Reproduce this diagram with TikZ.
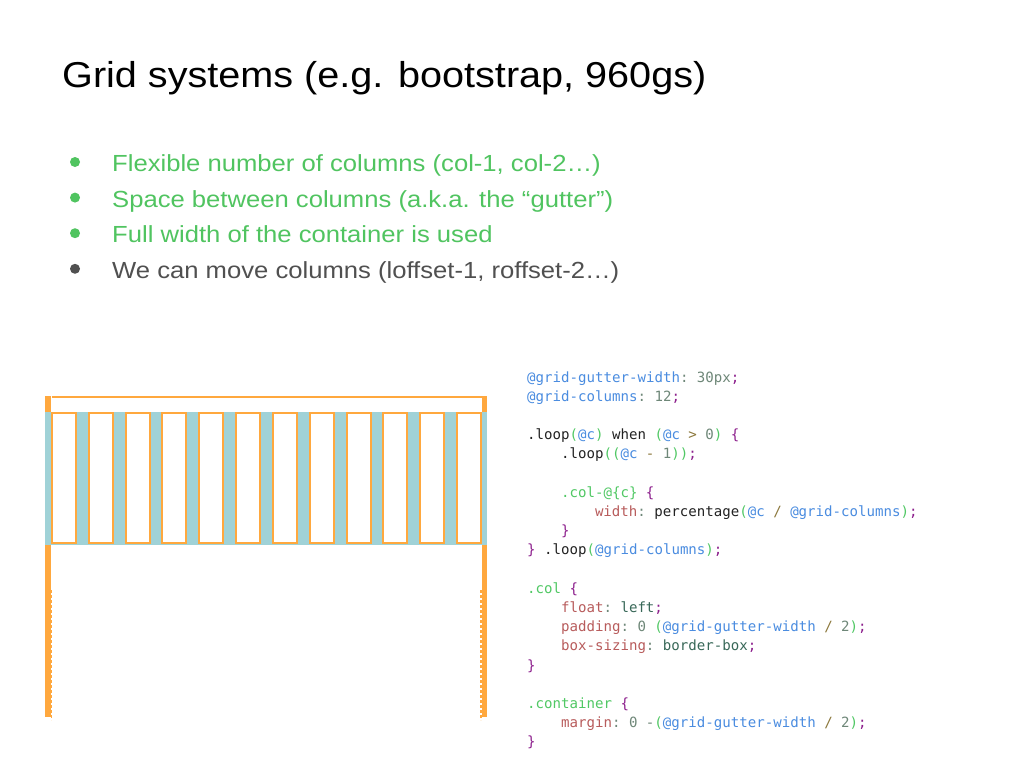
\documentclass[tikz,border=0pt]{standalone}
\usepackage{fontspec}
\setmainfont{Liberation Sans}[FakeStretch=1.1]
\setmonofont{DejaVu Sans Mono}
\usetikzlibrary{arrows.meta}

\definecolor{gridorange}{RGB}{255,168,62}
\definecolor{gutterblue}{RGB}{160,210,215}
\definecolor{bulgreen}{RGB}{80,196,96}
\definecolor{bulgray}{RGB}{80,80,80}
\definecolor{cvar}{RGB}{74,140,224}
\definecolor{cpar}{RGB}{80,200,100}
\definecolor{cbr}{RGB}{140,30,140}
\definecolor{cprop}{RGB}{184,92,92}
\definecolor{cval}{RGB}{56,104,88}
\definecolor{cnum}{RGB}{110,135,120}
\definecolor{cop}{RGB}{140,120,60}
\definecolor{cdark}{RGB}{34,34,34}

\newcommand\cVar[1]{\textcolor{cvar}{#1}}
\newcommand\cPar[1]{\textcolor{cpar}{#1}}
\newcommand\cBr[1]{\textcolor{cbr}{#1}}
\newcommand\cProp[1]{\textcolor{cprop}{#1}}
\newcommand\cVal[1]{\textcolor{cval}{#1}}
\newcommand\cNum[1]{\textcolor{cnum}{#1}}
\newcommand\cOp[1]{\textcolor{cop}{#1}}

\begin{document}
\begin{tikzpicture}[x=1pt,y=-1pt,
    every node/.style={inner sep=0pt},
    title/.style={anchor=base west,font=\fontsize{36}{40}\selectfont},
    bullet/.style={anchor=base west,font=\fontsize{23.3}{28}\selectfont},
    dot/.style={circle,minimum size=10pt},
    code/.style={anchor=base west,text=cdark,font=\ttfamily\fontsize{14.1}{17}\selectfont},
    colbox/.style={draw=gridorange,line width=2pt,fill=white,anchor=north west,
      minimum width=24pt,minimum height=129.5pt}]
  \useasboundingbox[fill=white] (0,0) rectangle (1024,768);

  \node[title] (title) at (62,87) {Grid systems (e.g. bootstrap, 960gs)};

  % bullets
  \node[dot,fill=bulgreen] (d1) at (75,162) {};
  \node[bullet,text=bulgreen] (b1) at (112,171.5) {Flexible number of columns (col-1, col-2…)};
  \node[dot,fill=bulgreen] (d2) at (75,197.6) {};
  \node[bullet,text=bulgreen] (b2) at (112,207.1) {Space between columns (a.k.a. the “gutter”)};
  \node[dot,fill=bulgreen] (d3) at (75,233.2) {};
  \node[bullet,text=bulgreen] (b3) at (112,242.7) {Full width of the container is used};
  \node[dot,fill=bulgray] (d4) at (75,268.8) {};
  \node[bullet,text=bulgray] (b4) at (112,278.3) {We can move columns (loffset-1, roffset-2…)};

  % grid
  \fill[gridorange] (45,396) rectangle (51,717);
  \fill[gridorange] (481.5,396) rectangle (487.3,717);
  \draw[gridorange,line width=2pt] (51.5,396.7) -- (481.5,396.7);
  \draw[gridorange,line width=1.2pt,dash pattern=on 3pt off 2pt] (51.8,590) -- (51.8,720);
  \draw[gridorange,line width=1.2pt,dash pattern=on 3pt off 2pt] (481,590) -- (481,720);
  \fill[gutterblue] (45,412) rectangle (487.3,544.5);
  \foreach \i in {0,...,11}
    \node[colbox] (col\i) at ({51+36.83*\i},412.3) {};

  % less code
  \node[code] (l0) at (527,382) {\cVar{@grid-gutter-width}\cNum{:} \cNum{30px}\cBr{;}};
  \node[code] (l1) at (527,401.2) {\cVar{@grid-columns}\cNum{:} \cNum{12}\cBr{;}};
  \node[code] (l3) at (527,439.6) {.loop\cPar{(}\cVar{@c}\cPar{)} when \cPar{(}\cVar{@c} \cOp{>} \cNum{0}\cPar{)} \cBr{\{}};
  \node[code] (l4) at (560.9,458.8) {.loop\cPar{((}\cVar{@c} \cOp{-} \cNum{1}\cPar{))}\cBr{;}};
  \node[code] (l6) at (560.9,497.2) {\cPar{.col-@\{c\}} \cBr{\{}};
  \node[code] (l7) at (594.8,516.4) {\cProp{width}\cNum{:} percentage\cPar{(}\cVar{@c} \cOp{/} \cVar{@grid-columns}\cPar{)}\cBr{;}};
  \node[code] (l8) at (560.9,535.6) {\cBr{\}}};
  \node[code] (l9) at (527,554.8) {\cBr{\}} .loop\cPar{(}\cVar{@grid-columns}\cPar{)}\cBr{;}};
  \node[code] (l11) at (527,593.2) {\cPar{.col} \cBr{\{}};
  \node[code] (l12) at (560.9,612.4) {\cProp{float}\cNum{:} \cVal{left}\cBr{;}};
  \node[code] (l13) at (560.9,631.6) {\cProp{padding}\cNum{:} \cNum{0} \cPar{(}\cVar{@grid-gutter-width} \cOp{/} \cNum{2}\cPar{)}\cBr{;}};
  \node[code] (l14) at (560.9,650.8) {\cProp{box-sizing}\cNum{:} \cVal{border-box}\cBr{;}};
  \node[code] (l15) at (527,670) {\cBr{\}}};
  \node[code] (l17) at (527,708.4) {\cPar{.container} \cBr{\{}};
  \node[code] (l18) at (560.9,727.6) {\cProp{margin}\cNum{:} \cNum{0} \cNum{-}\cPar{(}\cVar{@grid-gutter-width} \cOp{/} \cNum{2}\cPar{)}\cBr{;}};
  \node[code] (l19) at (527,746.8) {\cBr{\}}};
\end{tikzpicture}
\end{document}
